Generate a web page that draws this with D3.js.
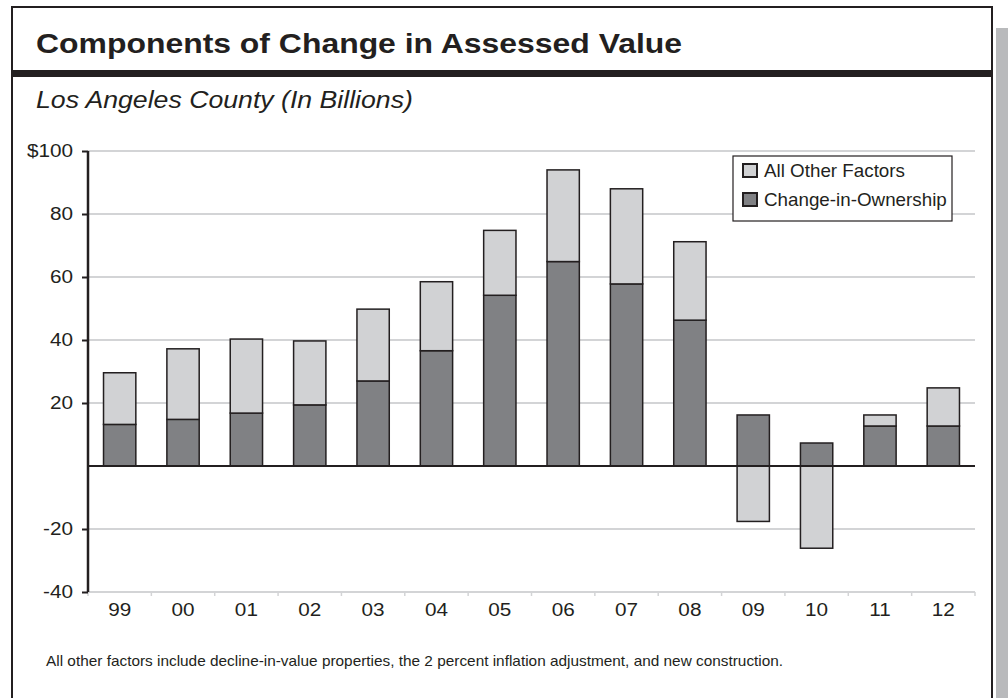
<!DOCTYPE html>
<html>
<head>
<meta charset="utf-8">
<script src="https://cdn.jsdelivr.net/npm/d3@7"></script>
<style>
  body { margin: 0; background: #fff; }
  text { font-family: "Liberation Sans", Arial, Helvetica, sans-serif; }
</style>
</head>
<body>
<div id="chart"></div>
<script>
// data, $ billions
var years      = ['99', '00', '01', '02', '03', '04', '05', '06', '07', '08', '09', '10', '11', '12'];
var ownership  = [13.2, 14.8, 16.8, 19.4, 27.0, 36.6, 54.2, 64.9, 57.8, 46.3, 16.2, 7.3, 12.7, 12.7];
var other      = [16.4, 22.4, 23.5, 20.3, 22.8, 21.9, 20.6, 29.1, 30.2, 24.9, -17.6, -26.1, 3.5, 12.1];
var y_ticks    = [-40, -20, 20, 40, 60, 80, 100];
var series_names = ['Change-in-Ownership', 'All Other Factors'];

var width  = 1008;
var height = 698;

var ownership_color = '#808184';
var other_color     = '#d1d2d4';
var stroke_color    = '#231f20';

// the source type is a bit wider than Liberation Sans, so stretch it a little
function stretched_text(parent, x, y, sx, size, str) {
    return parent.append('text')
        .attr('transform', 'translate(' + x + ',' + y + ') scale(' + sx + ',1)')
        .attr('font-size', size + 'px')
        .attr('fill', stroke_color)
        .text(str);
}

var svg = d3.select('#chart')
    .append('svg')
    .attr('width', width)
    .attr('height', height);

// frame, side stripe, title bar
svg.append('rect')
    .attr('x', 996).attr('y', 28)
    .attr('width', 12).attr('height', height - 28)
    .attr('fill', '#b9babc');

svg.append('rect')
    .attr('x', 12).attr('y', 7)
    .attr('width', 980).attr('height', height)
    .attr('fill', '#fff')
    .attr('stroke', stroke_color)
    .attr('stroke-width', 2);

svg.append('rect')
    .attr('x', 12).attr('y', 70)
    .attr('width', 980).attr('height', 7)
    .attr('fill', stroke_color);

stretched_text(svg, 36, 53, 1.14, 28, 'Components of Change in Assessed Value')
    .attr('font-weight', 'bold');

stretched_text(svg, 36, 108, 1.16, 23, 'Los Angeles County (In Billions)')
    .attr('font-style', 'italic');

// scales
var x_scale = d3.scaleBand()
    .domain(years)
    .range([88, 975])
    .paddingInner(0.49)
    .paddingOuter(0.245);

var y_scale = d3.scaleLinear()
    .domain([-40, 100])
    .range([592, 151]);

// gridlines
svg.append('g')
    .selectAll('line')
    .data(y_ticks)
    .enter()
    .append('line')
    .attr('x1', 88).attr('x2', 975)
    .attr('y1', function(d) { return y_scale(d); })
    .attr('y2', function(d) { return y_scale(d); })
    .attr('stroke', '#d3d4d6')
    .attr('stroke-width', 2);

// x axis (grey line with ticks at band edges)
var x_edges = d3.scaleLinear().domain([0, years.length]).range([88, 975]);
var x_axis_g = svg.append('g').attr('transform', 'translate(0,' + y_scale(-40) + ')');
x_axis_g.selectAll('line.edge')
    .data(d3.range(years.length + 1))
    .enter()
    .append('line')
    .attr('x1', function(d) { return x_edges(d); })
    .attr('x2', function(d) { return x_edges(d); })
    .attr('y1', 0).attr('y2', 4)
    .attr('stroke', '#d3d4d6')
    .attr('stroke-width', 1.5);
x_axis_g.selectAll('text')
    .data(years)
    .enter()
    .append('text')
    .attr('transform', function(d) {
        return 'translate(' + (x_scale(d) + x_scale.bandwidth() / 2) + ',24) scale(1.12,1)';
    })
    .attr('text-anchor', 'middle')
    .attr('font-size', '18.5px')
    .attr('fill', stroke_color)
    .text(function(d) { return d; });

// stacked bars
var table = years.map(function(y, i) {
    return { year: y, 'Change-in-Ownership': ownership[i], 'All Other Factors': other[i] };
});

var stack = d3.stack()
    .keys(series_names)
    .offset(d3.stackOffsetDiverging);

var stack_data = stack(table);
var colors = [ownership_color, other_color];

var groups = svg.selectAll('g.series')
    .data(stack_data)
    .enter()
    .append('g')
    .attr('class', 'series')
    .attr('fill', function(d, i) { return colors[i]; });

groups.selectAll('rect')
    .data(function(d) { return d; })
    .enter()
    .append('rect')
    .attr('x', function(d) { return x_scale(d.data.year); })
    .attr('y', function(d) { return y_scale(Math.max(d[0], d[1])); })
    .attr('width', x_scale.bandwidth())
    .attr('height', function(d) { return Math.abs(y_scale(d[0]) - y_scale(d[1])); })
    .attr('stroke', stroke_color)
    .attr('stroke-width', 1.5);

// zero line
svg.append('line')
    .attr('x1', 88).attr('x2', 975)
    .attr('y1', y_scale(0)).attr('y2', y_scale(0))
    .attr('stroke', stroke_color)
    .attr('stroke-width', 2);

// y axis
var y_axis = d3.axisLeft(y_scale)
    .tickValues(y_ticks)
    .tickSize(6)
    .tickFormat(function(d) { return d === 100 ? '$100' : d; });

var y_axis_g = svg.append('g')
    .attr('transform', 'translate(88,0)')
    .call(y_axis);
y_axis_g.select('.domain')
    .attr('stroke', stroke_color)
    .attr('stroke-width', 2.5)
    .attr('d', 'M0,' + y_scale(100) + 'V' + y_scale(-40));
y_axis_g.selectAll('.tick line').attr('stroke', stroke_color).attr('stroke-width', 2);
y_axis_g.selectAll('.tick text')
    .attr('font-family', '"Liberation Sans", Arial, sans-serif')
    .attr('font-size', '18.5px')
    .attr('fill', stroke_color)
    .attr('x', 0)
    .attr('transform', 'translate(-15,0) scale(1.12,1)');

// legend
var legend = svg.append('g').attr('transform', 'translate(733,156)');
legend.append('rect')
    .attr('width', 219).attr('height', 65)
    .attr('fill', '#fff')
    .attr('stroke', stroke_color)
    .attr('stroke-width', 1.2);

var legend_items = [
    { name: 'All Other Factors', color: other_color },
    { name: 'Change-in-Ownership', color: ownership_color }
];
legend_items.forEach(function(item, i) {
    var row = legend.append('g').attr('transform', 'translate(9,' + (7 + i * 29) + ')');
    row.append('rect')
        .attr('x', 1).attr('y', 1)
        .attr('width', 14).attr('height', 13)
        .attr('fill', item.color)
        .attr('stroke', stroke_color)
        .attr('stroke-width', 2);
    stretched_text(row, 22, 14, 1.045, 18, item.name);
});

// footnote
stretched_text(svg, 46, 666, 1.06, 14.5,
    'All other factors include decline-in-value properties, the 2 percent inflation adjustment, and new construction.');
</script>
</body>
</html>
